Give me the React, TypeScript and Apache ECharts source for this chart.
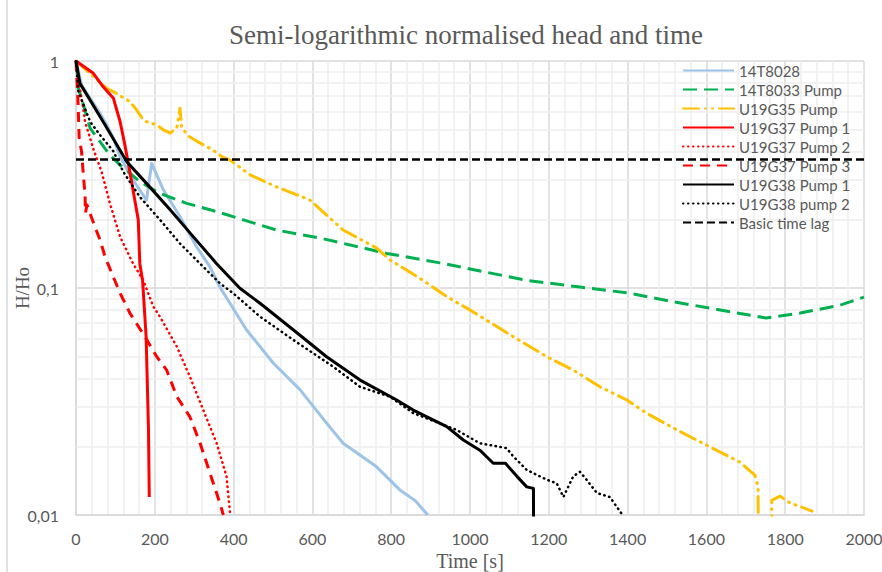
import React, { useEffect, useRef } from 'react';
import * as echarts from 'echarts';

// ---- data (time [s], H/Ho) ----
const T_14T8028 = [0, 14, 36, 61, 78, 95, 112, 145, 179, 192, 222, 264, 306, 340, 365, 433, 501, 569, 636, 678, 763, 822, 860, 893];
const H_14T8028 = [1, 0.784, 0.685, 0.588, 0.523, 0.457, 0.379, 0.299, 0.244, 0.354, 0.27, 0.206, 0.152, 0.124, 0.101, 0.0653, 0.0466, 0.0356, 0.0254, 0.0207, 0.0163, 0.0129, 0.0116, 0.01];

const T_14T8033 = [0, 3, 6, 19, 36, 61, 86, 112, 133, 162, 213, 281, 357, 425, 509, 619, 789, 924, 1144, 1279, 1406, 1516, 1635, 1751, 1838, 1939, 2000];
const H_14T8033 = [1, 0.91, 0.758, 0.64, 0.505, 0.441, 0.385, 0.348, 0.325, 0.294, 0.261, 0.236, 0.217, 0.1995, 0.18, 0.166, 0.142, 0.129, 0.108, 0.101, 0.0948, 0.087, 0.08, 0.0738, 0.0776, 0.084, 0.0912];

const T_U19G35 = [0, 78, 95, 137, 154, 171, 179, 205, 222, 239, 256, 264, 268, 285, 310, 348, 370, 391, 442, 509, 594, 678, 763, 797, 881, 941, 1000, 1110, 1195, 1262, 1330, 1398, 1448, 1525, 1584, 1685, 1723, 1731, 1733, 1765, 1766, 1787, 1812, 1838, 1868];
const H_U19G35 = [1, 0.758, 0.732, 0.662, 0.608, 0.55, 0.54, 0.523, 0.497, 0.481, 0.51, 0.619, 0.512, 0.467, 0.44, 0.405, 0.379, 0.366, 0.315, 0.279, 0.244, 0.18, 0.15, 0.133, 0.108, 0.0916, 0.08, 0.061, 0.0498, 0.0435, 0.0367, 0.0321, 0.0281, 0.0237, 0.021, 0.0171, 0.015, 0.0133, 0.005, 0.005, 0.0116, 0.0121, 0.0113, 0.0109, 0.0104];

const T_U19G37_1 = [0, 44, 69, 95, 112, 124, 135, 158, 162, 169, 178, 184, 186];
const H_U19G37_1 = [1, 0.883, 0.77, 0.685, 0.54, 0.427, 0.337, 0.2, 0.128, 0.108, 0.061, 0.0237, 0.012];

const T_U19G37_2 = [0, 10, 17, 23, 44, 65, 86, 112, 145, 171, 196, 213, 256, 289, 323, 357, 382, 391];
const H_U19G37_2 = [1, 0.758, 0.64, 0.54, 0.41, 0.325, 0.236, 0.168, 0.128, 0.108, 0.083, 0.0748, 0.0551, 0.0407, 0.029, 0.0207, 0.0148, 0.0102];

const T_U19G37_3 = [0, 5, 8, 14, 19, 23, 24, 28, 48, 61, 74, 91, 112, 137, 175, 205, 230, 256, 289, 315, 340, 365, 374];
const H_U19G37_3 = [1, 0.67, 0.458, 0.4, 0.31, 0.257, 0.214, 0.232, 0.186, 0.163, 0.137, 0.116, 0.0948, 0.0774, 0.061, 0.0498, 0.0435, 0.0332, 0.0271, 0.0207, 0.0153, 0.0113, 0.01];

const T_U19G38_1 = [0, 10, 69, 129, 179, 239, 298, 357, 416, 467, 552, 636, 721, 814, 856, 941, 983, 1025, 1059, 1090, 1119, 1144, 1161, 1162];
const H_U19G38_1 = [1, 0.797, 0.54, 0.36, 0.289, 0.221, 0.168, 0.128, 0.0997, 0.0857, 0.0653, 0.0498, 0.0393, 0.0321, 0.029, 0.0245, 0.0214, 0.0193, 0.0169, 0.0169, 0.0148, 0.0133, 0.0131, 0.005];

const T_U19G38_2 = [0, 6, 36, 61, 95, 120, 162, 213, 264, 315, 365, 399, 467, 552, 653, 721, 797, 856, 966, 1025, 1093, 1110, 1144, 1195, 1220, 1237, 1262, 1279, 1296, 1322, 1355, 1372, 1389];
const H_U19G38_2 = [1, 0.732, 0.54, 0.472, 0.4, 0.325, 0.252, 0.2, 0.157, 0.128, 0.105, 0.0948, 0.0748, 0.059, 0.045, 0.0367, 0.0332, 0.0281, 0.0237, 0.0207, 0.0197, 0.0181, 0.0158, 0.0143, 0.0138, 0.012, 0.0148, 0.0155, 0.0143, 0.0125, 0.012, 0.0109, 0.0099];

const T_LAG = [0, 2000];
const H_LAG = [0.368, 0.368];

const MINOR_Y = [0.02, 0.03, 0.04, 0.05, 0.06, 0.07, 0.08, 0.09, 0.2, 0.3, 0.4, 0.5, 0.6, 0.7, 0.8, 0.9];

const NAMES = ['14T8028', '14T8033 Pump', 'U19G35 Pump', 'U19G37 Pump 1', 'U19G37 Pump 2', 'U19G37 Pump 3', 'U19G38 Pump 1', 'U19G38 pump 2', 'Basic time lag'];

const zip = (t: number[], h: number[]) => t.map((v, i) => [v, h[i]]);

const mk = (name: string, t: number[], h: number[], color: string, width: number, type: any = 'solid', cap: string = 'butt') => ({
  name,
  type: 'line',
  data: zip(t, h),
  symbol: 'none',
  showSymbol: false,
  legendIcon: 'none',
  z: 2,
  silent: true,
  clip: true,
  lineStyle: { color, width, type, cap, join: 'round' },
  itemStyle: { color },
  emphasis: { disabled: true },
});

export default function App() {
  const ref = useRef<HTMLDivElement>(null);
  useEffect(() => {
    const chart = echarts.init(ref.current!, null, { renderer: 'svg' });
    const gray = '#595959';
    const sans = 'Lato, "Liberation Sans", sans-serif';
    const serif = '"Liberation Serif", "Times New Roman", serif';
    const option: any = {
      animation: false,
      backgroundColor: '#ffffff',
      title: {
        text: 'Semi-logarithmic normalised head and time',
        left: 229,
        top: 21,
        padding: 0,
        textStyle: { fontFamily: serif, fontSize: 27, fontWeight: 'normal', color: gray },
      },
      legend: {
        data: NAMES,
        orient: 'vertical',
        left: 682,
        top: 63,
        padding: 0,
        itemWidth: 51,
        itemHeight: 10,
        itemGap: 4,
        selectedMode: false,
        itemStyle: { opacity: 0 },
        textStyle: { fontFamily: sans, fontSize: 15, color: gray },
      },
      grid: { left: 76, top: 61, right: 18, bottom: 57, containLabel: false, outerBoundsMode: 'none' },
      xAxis: {
        type: 'value',
        min: 0,
        max: 2000,
        interval: 200,
        name: 'Time [s]',
        nameLocation: 'middle',
        nameGap: 36,
        nameMoveOverlap: false,
        nameTextStyle: { fontFamily: serif, fontSize: 20, color: gray },
        axisLine: { show: true, onZero: false, lineStyle: { color: '#D9D9D9', width: 1.5 } },
        axisTick: { show: false },
        axisLabel: { fontFamily: sans, fontSize: 16, color: gray, margin: 15, formatter: (v: number) => String(v) },
        splitLine: { show: true, lineStyle: { color: '#D9D9D9', width: 1.5 } },
        minorTick: { show: false, splitNumber: 5 },
        minorSplitLine: { show: true, lineStyle: { color: '#EEEEEE', width: 1.5 } },
      },
      yAxis: {
        type: 'log',
        logBase: 10,
        min: 0.01,
        max: 1,
        name: 'H/Ho',
        nameLocation: 'middle',
        nameGap: 44,
        nameMoveOverlap: false,
        nameTextStyle: { fontFamily: serif, fontSize: 19, color: gray },
        axisLine: { show: true, onZero: false, lineStyle: { color: '#D9D9D9', width: 1.5 } },
        axisTick: { show: false },
        axisLabel: {
          fontFamily: sans,
          fontSize: 16,
          color: gray,
          margin: 17,
          formatter: (v: number) => String(Number(v.toPrecision(3))).replace('.', ','),
        },
        splitLine: { show: true, lineStyle: { color: '#D9D9D9', width: 1.5 } },
        minorSplitLine: { show: false },
      },
      graphic: [
        { type: 'line', shape: { x1: 7, y1: 0, x2: 7, y2: 572 }, style: { stroke: '#D9D9D9', lineWidth: 1.5 }, silent: true },
      ],
      series: [
        {
          name: 'minor-grid',
          type: 'line',
          data: [[0, 0.5]],
          symbol: 'none',
          silent: true,
          lineStyle: { opacity: 0 },
          z: 1,
          markLine: {
            silent: true,
            symbol: 'none',
            z: 1,
            label: { show: false },
            lineStyle: { color: '#EEEEEE', width: 1.5, type: 'solid' },
            emphasis: { disabled: true },
            data: MINOR_Y.map((v) => ({ yAxis: v })),
          },
        },
        mk(NAMES[0], T_14T8028, H_14T8028, '#9DC3E6', 3),
        mk(NAMES[1], T_14T8033, H_14T8033, '#00B050', 3, [14, 7]),
        mk(NAMES[2], T_U19G35, H_U19G35, '#FFC000', 3, [16, 6, 1, 6, 1, 6], 'round'),
        mk(NAMES[3], T_U19G37_1, H_U19G37_1, '#FF0000', 3),
        mk(NAMES[4], T_U19G37_2, H_U19G37_2, '#FF0000', 2.5, [0.5, 4.5], 'round'),
        mk(NAMES[5], T_U19G37_3, H_U19G37_3, '#FF0000', 3, [10, 7]),
        mk(NAMES[6], T_U19G38_1, H_U19G38_1, '#000000', 3),
        mk(NAMES[7], T_U19G38_2, H_U19G38_2, '#000000', 2.5, [0.5, 4.5], 'round'),
        mk(NAMES[8], T_LAG, H_LAG, '#000000', 2.5, [8, 4]),
      ],
    };
    chart.setOption(option);
    return () => chart.dispose();
  }, []);
  return (
    <div
      ref={ref}
      style={{ position: 'absolute', left: 0, top: 0, width: 882, height: 572, background: '#ffffff' }}
    />
  );
}
